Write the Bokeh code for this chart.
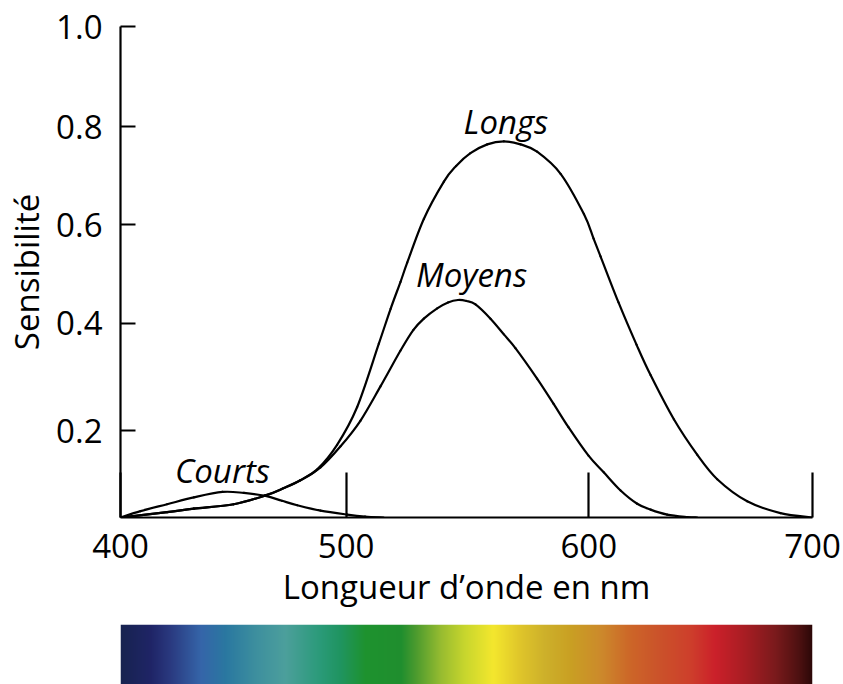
import numpy as np
from bokeh.plotting import figure
from bokeh.models import FixedTicker, Range1d
from bokeh.layouts import column
from bokeh.core.properties import value
from bokeh.embed import file_html
from bokeh.resources import INLINE

FONT = "Open Sans"

# ---- data (wavelength nm, sensitivity) ----
longs_nm = [400.0, 420.2, 431.8, 449.1, 462.9, 470.8, 478.0, 485.3, 493.9, 502.6, 512.0,
            517.1, 521.4, 524.3, 531.5, 540.2, 545.5, 551.7, 559.0, 566.2, 573.4, 580.6,
            590.8, 600.9, 605.1, 608.1, 615.9, 623.7, 629.8, 639.9, 650.0, 658.7, 671.7,
            686.1, 700.0]
longs_val = [0.000, 0.011, 0.018, 0.027, 0.045, 0.060, 0.076, 0.098, 0.148, 0.225, 0.354,
             0.425, 0.480, 0.519, 0.608, 0.684, 0.716, 0.742, 0.760, 0.766, 0.760, 0.745,
             0.700, 0.618, 0.568, 0.532, 0.438, 0.352, 0.290, 0.200, 0.128, 0.078, 0.033,
             0.009, 0.000]

moyens_nm = [400.0, 420.2, 431.8, 449.1, 462.9, 470.8, 478.0, 486.7, 495.4, 504.0, 512.7,
             521.4, 527.0, 531.5, 537.3, 542.0, 546.3, 550.0, 553.9, 560.4, 566.2, 571.2,
             580.6, 587.7, 594.2, 602.9, 609.5, 616.8, 624.0, 629.8, 637.0, 645.7, 650.0]
moyens_val = [0.000, 0.011, 0.018, 0.027, 0.045, 0.060, 0.076, 0.102, 0.145, 0.197, 0.267,
              0.340, 0.382, 0.405, 0.426, 0.438, 0.443, 0.441, 0.434, 0.405, 0.373, 0.345,
              0.283, 0.232, 0.184, 0.126, 0.092, 0.055, 0.028, 0.016, 0.006, 0.001, 0.000]

courts_nm = [400.0, 408.7, 420.2, 431.8, 444.2, 453.5, 462.9, 470.0, 476.6, 486.7, 498.3,
             506.0, 514.0]
courts_val = [0.000, 0.013, 0.027, 0.041, 0.052, 0.050, 0.044, 0.034, 0.025, 0.014, 0.006,
              0.002, 0.000]

label_text = ["Longs", "Moyens", "Courts"]
label_nm = [567.1, 552.2, 444.2]
label_val = [0.807, 0.494, 0.095]

x_tick_pos = [400.0, 497.8, 603.0, 700.0]
x_tick_labels = ["400", "500", "600", "700"]
y_tick_pos = [0.177, 0.396, 0.596, 0.796, 1.0]
y_tick_labels = ["0.2", "0.4", "0.6", "0.8", "1.0"]

# spectrum colour stops (wavelength nm, colour)
spectrum_nm = [400.0, 412.9, 421.6, 434.8, 445.6, 458.5, 471.4, 486.7, 495.4, 506.2,
               521.5, 527.8, 538.6, 549.4, 561.7, 573.4, 584.2, 595.0, 608.2, 621.1,
               634.0, 647.2, 658.0, 670.9, 684.1, 694.9, 700.0]
spectrum_colors = ["#172350", "#1f2466", "#2a3a80", "#3565a9", "#2a78a0", "#3d8f9e",
                   "#4c9f9c", "#2a9a78", "#1f9460", "#1e922e", "#1f8e2e", "#4a9a2e",
                   "#95bb30", "#c8d62d", "#f4e72d", "#dfc52a", "#cdb02a", "#c9a023",
                   "#cc8a2b", "#cc6628", "#cb522a", "#cd3f2b", "#cb202a", "#a81d23",
                   "#7a1a1c", "#4a1010", "#2c0808"]


def smooth_segments(xs, ys):
    """Catmull-Rom control points for drawing the read points as smooth Bezier segments."""
    x = np.asarray(xs, float)
    y = np.asarray(ys, float)
    xp = np.concatenate([[x[0]], x, [x[-1]]])
    yp = np.concatenate([[y[0]], y, [y[-1]]])
    n = len(x) - 1
    i = np.arange(n) + 1
    cx0 = xp[i] + (xp[i + 1] - xp[i - 1]) / 6.0
    cy0 = yp[i] + (yp[i + 1] - yp[i - 1]) / 6.0
    cx1 = xp[i + 1] - (xp[i + 2] - xp[i]) / 6.0
    cy1 = yp[i + 1] - (yp[i + 2] - yp[i]) / 6.0
    return dict(x0=x[:-1], y0=y[:-1], x1=x[1:], y1=y[1:], cx0=cx0, cy0=cy0, cx1=cx1, cy1=cy1)


# ---- main chart ----
p = figure(width=843, height=624, x_range=Range1d(400, 700), y_range=Range1d(0, 1),
           output_backend="svg", toolbar_location=None,
           min_border_left=120, min_border_right=31, min_border_top=26, min_border_bottom=107)
p.outline_line_color = None
p.grid.visible = False
p.background_fill_color = "white"
p.border_fill_color = "white"

for xs, ys in [(longs_nm, longs_val), (moyens_nm, moyens_val), (courts_nm, courts_val)]:
    seg = smooth_segments(xs, ys)
    p.bezier(**seg, line_color="black", line_width=2.2, line_cap="round")

p.text(x=label_nm, y=label_val, text=label_text, text_font=value(FONT),
       text_font_style="italic", text_font_size="33px", text_align="center",
       text_baseline="alphabetic", text_color="black")

xa = p.xaxis[0]
xa.ticker = FixedTicker(ticks=x_tick_pos)
xa.major_label_overrides = {t: l for t, l in zip(x_tick_pos, x_tick_labels)}
xa.major_tick_in = 45
xa.major_tick_out = 0
xa.minor_tick_line_color = None
xa.axis_line_width = 2.2
xa.major_tick_line_width = 2.2
xa.axis_line_color = "black"
xa.major_tick_line_color = "black"
xa.major_label_text_font = FONT
xa.major_label_text_font_size = "33px"
xa.major_label_text_color = "black"
xa.major_label_standoff = 16
xa.axis_label = "Longueur d\u2019onde en nm"
xa.axis_label_text_font = FONT
xa.axis_label_text_font_size = "33px"
xa.axis_label_text_font_style = "normal"
xa.axis_label_text_color = "black"
xa.axis_label_standoff = 3

ya = p.yaxis[0]
ya.ticker = FixedTicker(ticks=y_tick_pos)
ya.major_label_overrides = {t: l for t, l in zip(y_tick_pos, y_tick_labels)}
ya.major_tick_in = 15
ya.major_tick_out = 0
ya.minor_tick_line_color = None
ya.axis_line_width = 2.2
ya.major_tick_line_width = 2.2
ya.axis_line_color = "black"
ya.major_tick_line_color = "black"
ya.major_label_text_font = FONT
ya.major_label_text_font_size = "33px"
ya.major_label_text_color = "black"
ya.major_label_standoff = 18
ya.axis_label = "Sensibilit\u00e9"
ya.axis_label_text_font = FONT
ya.axis_label_text_font_size = "33px"
ya.axis_label_text_font_style = "normal"
ya.axis_label_text_color = "black"
ya.axis_label_standoff = 4

# ---- spectrum bar ----
s = figure(width=843, height=60, x_range=Range1d(400, 700), y_range=Range1d(0, 1),
           output_backend="svg", toolbar_location=None,
           min_border_left=120, min_border_right=31, min_border_top=0, min_border_bottom=0)
s.axis.visible = False
s.grid.visible = False
s.outline_line_color = None
s.border_fill_color = "white"

N = 692
cols = np.linspace(400, 700, N)
rgb = np.array([[int(c[i:i + 2], 16) for i in (1, 3, 5)] for c in spectrum_colors], dtype=float)
img = np.empty((1, N), dtype=np.uint32)
view = img.view(dtype=np.uint8).reshape((1, N, 4))
for k in range(3):
    view[0, :, k] = np.round(np.interp(cols, spectrum_nm, rgb[:, k])).astype(np.uint8)
view[0, :, 3] = 255
s.image_rgba(image=[img], x=400, y=0, dw=300, dh=1)

layout = column(p, s, spacing=0)
open("out.html", "w").write(file_html(layout, INLINE))
